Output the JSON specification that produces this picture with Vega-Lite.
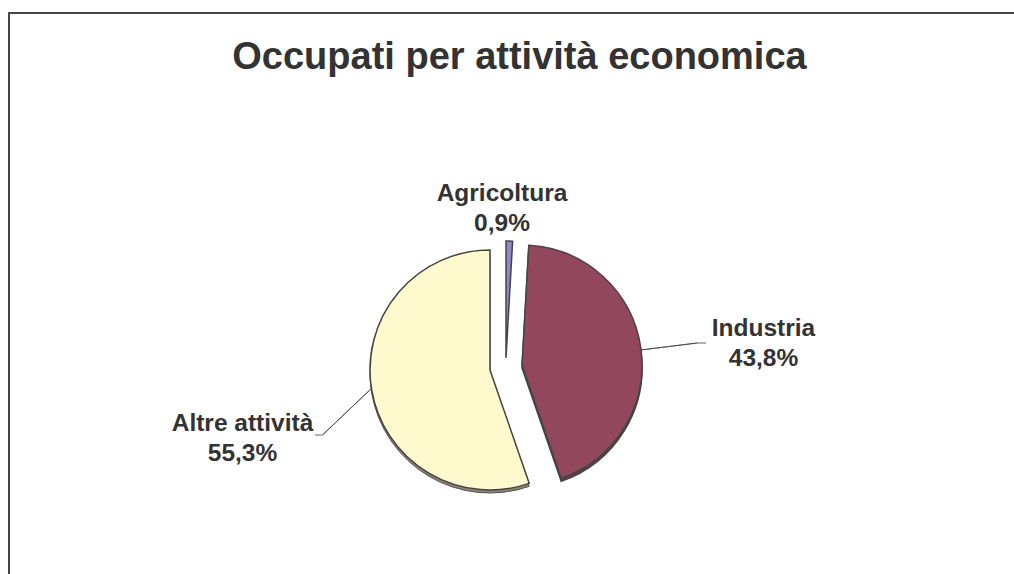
{"$schema":"https://vega.github.io/schema/vega-lite/v6.json","width":1035,"height":591,"autosize":"none","padding":{"left":9,"top":13,"right":0,"bottom":0},"background":"#ffffff","title":{"text":"Occupati per attività economica","anchor":"middle","offset":-65,"fontSize":38,"fontWeight":"bold","font":"Liberation Sans","color":"#333333","dx":-7},"data":{"values":[{"attivita":"Agricoltura","quota":0.9,"etichetta":"Agricoltura\n0,9%"},{"attivita":"Industria","quota":43.8,"etichetta":"Industria\n43,8%"},{"attivita":"Altre attività","quota":55.3,"etichetta":"Altre attività\n55,3%"}]},"transform":[{"stack":"quota","offset":"zero","as":["t0","t1"]}],"layer":[
{"mark":{"type":"rect","fill":"transparent","stroke":"#444444","strokeWidth":1.5},"encoding":{}},
{"transform":[{"filter":"datum.attivita==='Industria'"}],"mark":{"type":"arc","radius":57.5,"xOffset":113.5,"yOffset":41.6,"stroke":"#444444","strokeWidth":0.8},"encoding":{"theta":{"value":1.447},"theta2":{"value":1.447}}},
{"transform":[{"filter":"datum.attivita==='Industria'"}],"mark":{"type":"arc","radius":9,"xOffset":170.5,"yOffset":34.5,"stroke":"#888888","strokeWidth":0.8},"encoding":{"theta":{"value":1.5708},"theta2":{"value":1.5708}}},
{"transform":[{"filter":"datum.attivita==='Altre attività'"}],"mark":{"type":"arc","radius":69,"xOffset":-153.5,"yOffset":78.5,"stroke":"#444444","strokeWidth":0.8},"encoding":{"theta":{"value":3.953},"theta2":{"value":3.953}}},
{"transform":[{"filter":"datum.attivita==='Altre attività'"}],"mark":{"type":"arc","radius":8,"xOffset":-203.5,"yOffset":126.5,"stroke":"#888888","strokeWidth":0.8},"encoding":{"theta":{"value":4.7124},"theta2":{"value":4.7124}}},
{"transform":[{"filter":"datum.attivita==='Altre attività'"}],"mark":{"type":"arc","radius":120,"xOffset":-36.5,"yOffset":64.5,"fill":"#8f8070","stroke":"#555555","strokeWidth":1},"encoding":{"theta":{"field":"t0","type":"quantitative","scale":{"domain":[0,100],"range":[0,6.2832]}},"theta2":{"field":"t1"}}},
{"transform":[{"filter":"datum.attivita==='Industria'"}],"mark":{"type":"arc","radius":120,"xOffset":-4.5,"yOffset":59.5,"fill":"#6e3347","stroke":"#444444","strokeWidth":1.5},"encoding":{"theta":{"field":"t0","type":"quantitative","scale":{"domain":[0,100],"range":[0,6.2832]}},"theta2":{"field":"t1"}}},
{"transform":[{"filter":"datum.attivita==='Altre attività'"}],"mark":{"type":"arc","radius":120,"xOffset":-36.5,"yOffset":61.5,"fill":"#fffacd","stroke":"#444444","strokeWidth":1.5},"encoding":{"theta":{"field":"t0","type":"quantitative","scale":{"domain":[0,100],"range":[0,6.2832]}},"theta2":{"field":"t1"}}},
{"transform":[{"filter":"datum.attivita==='Industria'"}],"mark":{"type":"arc","radius":120,"xOffset":-4.5,"yOffset":56.5,"fill":"#92475c","stroke":"#444444","strokeWidth":1.5},"encoding":{"theta":{"field":"t0","type":"quantitative","scale":{"domain":[0,100],"range":[0,6.2832]}},"theta2":{"field":"t1"}}},
{"transform":[{"filter":"datum.attivita==='Agricoltura'"}],"mark":{"type":"arc","radius":117,"xOffset":-20.5,"yOffset":49.5,"fill":"#8d88c8","stroke":"#444444","strokeWidth":1.5},"encoding":{"theta":{"field":"t0","type":"quantitative","scale":{"domain":[0,100],"range":[0,6.2832]}},"theta2":{"field":"t1"}}},
{"transform":[{"filter":"datum.attivita==='Agricoltura'"}],"mark":{"type":"text","lineBreak":"\n","lineHeight":30,"font":"Liberation Sans","fontWeight":"bold","fontSize":24.5,"color":"#333333","xOffset":-24.5,"yOffset":-115},"encoding":{"text":{"field":"etichetta"}}},
{"transform":[{"filter":"datum.attivita==='Industria'"}],"mark":{"type":"text","lineBreak":"\n","lineHeight":30,"font":"Liberation Sans","fontWeight":"bold","fontSize":24.5,"color":"#333333","xOffset":237,"yOffset":20},"encoding":{"text":{"field":"etichetta"}}},
{"transform":[{"filter":"datum.attivita==='Altre attività'"}],"mark":{"type":"text","lineBreak":"\n","lineHeight":30,"font":"Liberation Sans","fontWeight":"bold","fontSize":24.5,"color":"#333333","xOffset":-284,"yOffset":115},"encoding":{"text":{"field":"etichetta"}}}
]}
